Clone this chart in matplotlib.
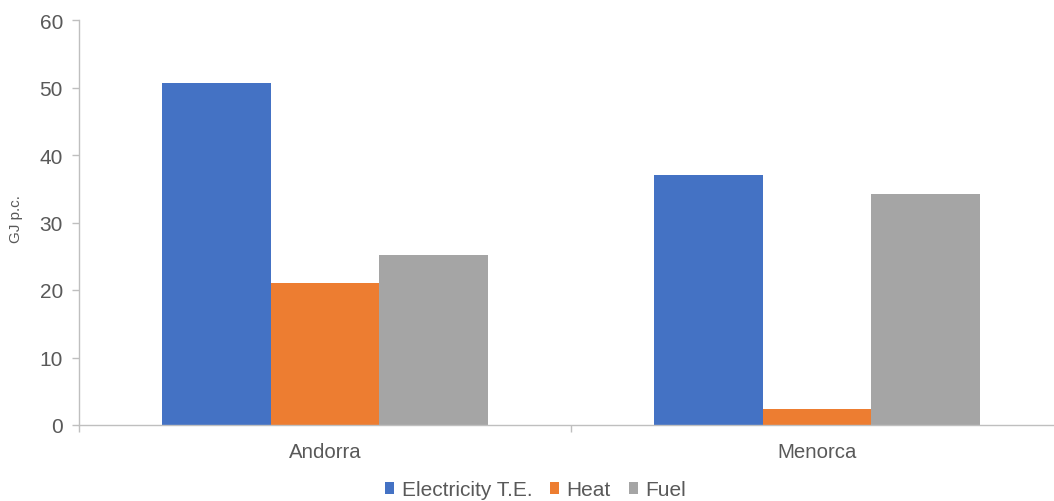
import matplotlib
matplotlib.use("Agg")
import matplotlib.pyplot as plt
import numpy as np

categories = ["Andorra", "Menorca"]
series_names = ["Electricity T.E.", "Heat", "Fuel"]
electricity = [50.7, 37.0]
heat = [21.0, 2.4]
fuel = [25.2, 34.2]
colors = ["#4472C4", "#ED7D31", "#A5A5A5"]
yticks = [0, 10, 20, 30, 40, 50, 60]

plt.rcParams["font.family"] = ["Liberation Sans", "DejaVu Sans"]
text_color = "#595959"
axis_color = "#BFBFBF"

W, H = 1054, 502
fig = plt.figure(figsize=(W / 100, H / 100), dpi=100)
# plot area runs slightly past the right edge of the canvas
left_px, right_px, top_px, bottom_px = 79, 1063, 21, 426
ax = fig.add_axes([left_px / W, 1 - bottom_px / H,
                   (right_px - left_px) / W, (bottom_px - top_px) / H])

x = np.arange(len(categories))
w = 0.2215
for i, (vals, name, c) in enumerate(zip([electricity, heat, fuel], series_names, colors)):
    ax.bar(x + (i - 1) * w, vals, width=w, color=c, label=name, zorder=2)

ax.set_xlim(-0.5, 1.5)
ax.set_ylim(0, 60)
ax.set_yticks(yticks)
ax.set_yticklabels([str(t) for t in yticks])
ax.set_xticks(x)
ax.set_xticklabels(categories)
ax.set_xticks([-0.5, 0.5, 1.5], minor=True)

for side in ["top", "right"]:
    ax.spines[side].set_visible(False)
for side in ["left", "bottom"]:
    ax.spines[side].set_color(axis_color)
    ax.spines[side].set_linewidth(1.0)

ax.tick_params(axis="y", colors=axis_color, labelcolor=text_color, labelsize=15,
               length=5, width=1.0, direction="out", pad=6.5)
ax.tick_params(axis="x", which="major", length=0, labelcolor=text_color,
               labelsize=14.7, pad=12)
ax.tick_params(axis="x", which="minor", length=5, width=1.0, color=axis_color,
               direction="out")

ax.set_ylabel("GJ p.c.", fontsize=11, color=text_color)
ax.yaxis.set_label_coords((23 - left_px) / (right_px - left_px), 0.51)

handles, labels = ax.get_legend_handles_labels()
fig.legend(handles, labels, loc="center", bbox_to_anchor=(0.508, 1 - 491 / H), ncol=3,
           frameon=False, fontsize=15, labelcolor=text_color, handlelength=0.45,
           handleheight=0.45, handletextpad=0.35, columnspacing=0.85, borderpad=0)

fig.savefig("out.png", dpi=100)
